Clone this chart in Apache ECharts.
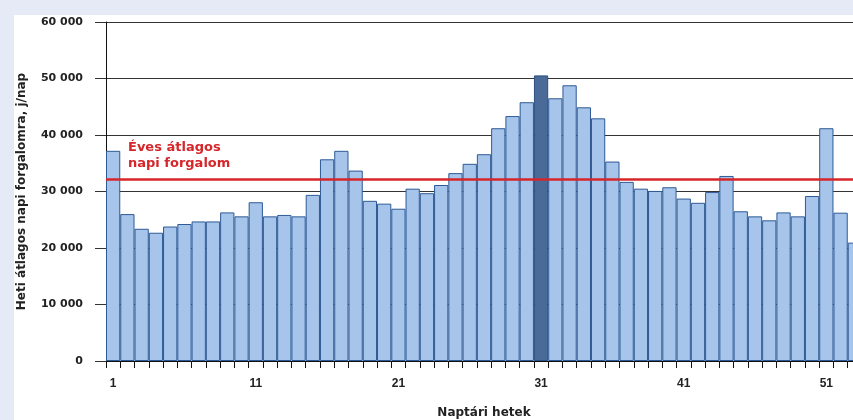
<!DOCTYPE html>
<html>
<head>
<meta charset="utf-8">
<script src="https://cdn.jsdelivr.net/npm/echarts@6/dist/echarts.min.js"></script>
<style>
  html, body { margin: 0; padding: 0; background: #e6e9f6; overflow: hidden; width: 853px; height: 420px; }
  #frame { position: relative; width: 853px; height: 420px; overflow: hidden; }
  #chart { position: absolute; left: 0; top: 0; width: 870px; height: 420px; }
</style>
</head>
<body>
<div id="frame"><div id="chart"></div></div>
<script>
// Heti átlagos napi forgalom naptári hetenként (1–53. hét)
const weeks = Array.from({ length: 53 }, (_, i) => String(i + 1));
const dailyTraffic = [
  37200, 26000, 23400, 22700, 23800, 24250, 24700, 24700, 26300, 25600,
  28100, 25600, 25850, 25600, 29400, 35700, 37200, 33700, 28350, 27850,
  26950, 30500, 29700, 31150, 33250, 34900, 36600, 41200, 43350, 45800,
  50550, 46500, 48800, 44900, 42950, 35300, 31700, 30500, 30100, 30750,
  28750, 28000, 29900, 32750, 26500, 25600, 24900, 26300, 25600, 29200,
  41200, 26250, 20950
];
const peakWeek = '31';
const yearlyAverage = 32200;
const yTicks = [0, 10000, 20000, 30000, 40000, 50000, 60000];

const fmt = v => String(v).replace(/\B(?=(\d{3})+(?!\d))/g, ' ');

const chart = echarts.init(document.getElementById('chart'));
const font = 'Liberation Sans, Arial, sans-serif';
const wide = 'DejaVu Sans, Verdana, sans-serif';

chart.setOption({
  backgroundColor: '#e6e9f6',
  animation: false,
  graphic: [
    { type: 'rect', left: 14, top: 15, shape: { width: 860, height: 405 }, style: { fill: '#ffffff' }, z: -10 },
    {
      type: 'text', left: 128, top: 140, z: 10,
      style: {
        text: 'Éves átlagos\nnapi forgalom',
        fill: '#d6262a', font: 'bold 13px ' + wide, lineHeight: 16
      }
    }
  ],
  grid: { left: 106, top: 22, width: 756, height: 339, outerBoundsMode: 'none', containLabel: false },
  xAxis: {
    type: 'category',
    data: weeks,
    name: 'Naptári hetek',
    nameLocation: 'middle',
    nameGap: 46,
    nameTextStyle: { fontFamily: wide, fontWeight: 'bold', fontSize: 12, color: '#222' },
    axisLine: { lineStyle: { color: '#111', width: 1 } },
    axisTick: { show: true, interval: 0, length: 7, lineStyle: { color: '#111' } },
    axisLabel: {
      interval: 9, margin: 17,
      fontFamily: font, fontWeight: 'bold', fontSize: 12, color: '#222'
    },
    splitLine: { show: false }
  },
  yAxis: {
    type: 'value',
    min: 0, max: 60000, interval: 10000,
    name: 'Heti átlagos napi forgalomra, j/nap',
    nameLocation: 'middle',
    nameGap: 78,
    nameRotate: 90,
    nameTextStyle: { fontFamily: wide, fontWeight: 'bold', fontSize: 12, color: '#222' },
    axisLine: { show: true, lineStyle: { color: '#111', width: 1 } },
    axisTick: { show: true, length: 11, lineStyle: { color: '#333' } },
    axisLabel: {
      margin: 23,
      formatter: v => yTicks.includes(v) ? fmt(v) : '',
      fontFamily: wide, fontWeight: 'bold', fontSize: 11, color: '#222'
    },
    splitLine: { show: true, lineStyle: { color: '#333', width: 1 } }
  },
  series: [{
    type: 'bar',
    data: dailyTraffic.map((v, i) => weeks[i] === peakWeek
      ? { value: v, itemStyle: { color: '#4a6a98', borderColor: '#2c4e80' } }
      : v),
    barCategoryGap: '0%',
    itemStyle: { color: '#a7c4ea', borderColor: '#2d5a95', borderWidth: 1 },
    markLine: {
      silent: true,
      symbol: 'none',
      label: { show: false },
      lineStyle: { color: '#d6262a', width: 2.5, type: 'solid' },
      data: [{ yAxis: yearlyAverage }]
    }
  }]
});
</script>
</body>
</html>
